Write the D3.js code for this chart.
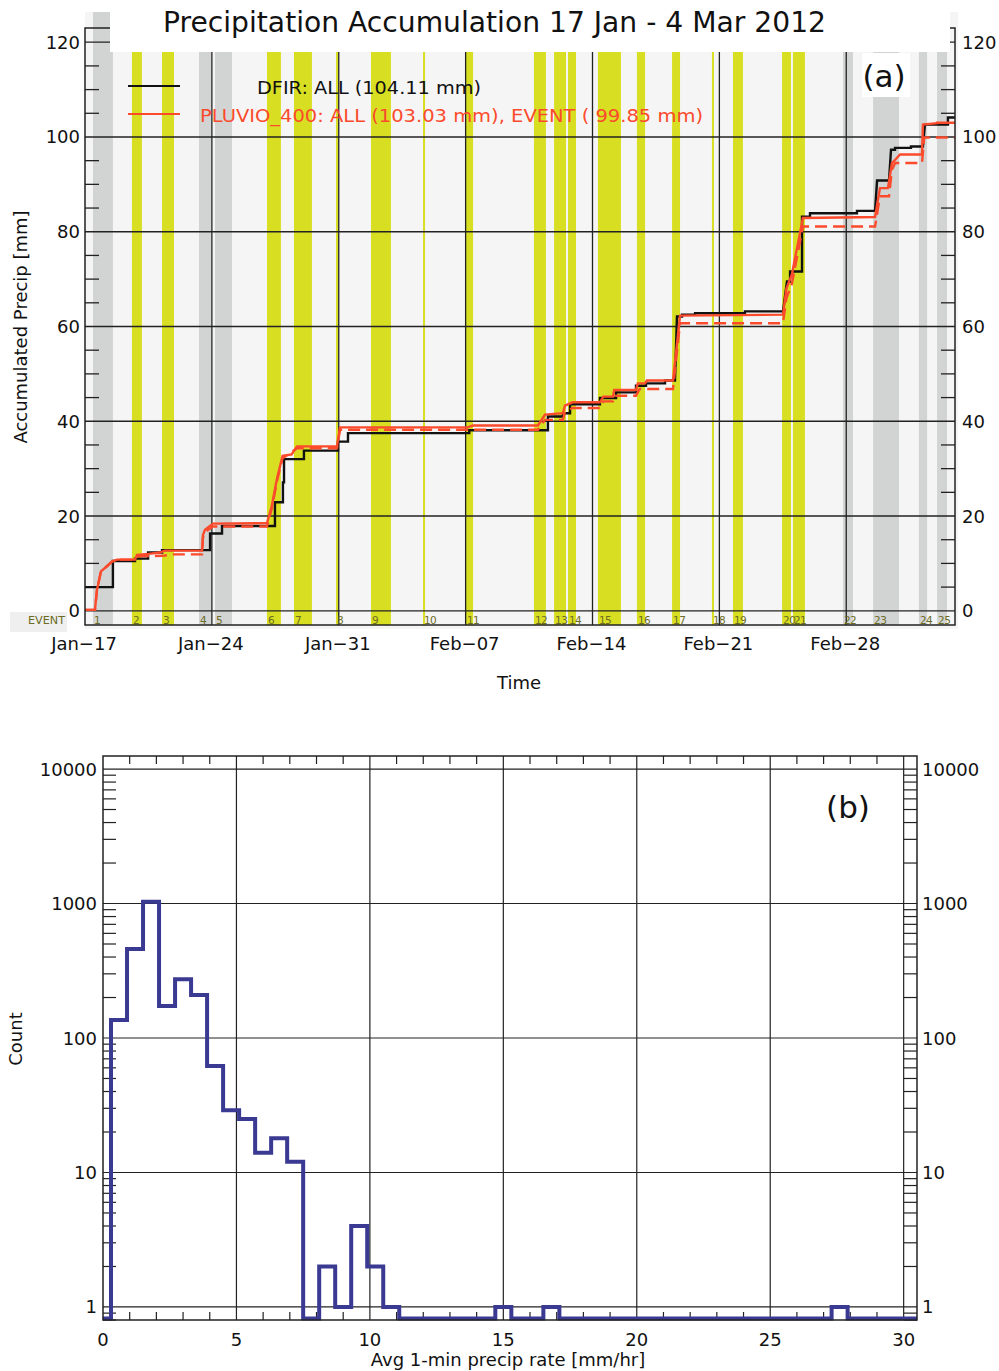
<!DOCTYPE html>
<html><head><meta charset="utf-8">
<script src="https://cdn.jsdelivr.net/npm/d3@7"></script>
<style>
body{margin:0;background:#fff}
svg{display:block}
text{font-family:"DejaVu Sans",sans-serif}
</style>
</head><body>
<svg id="c" width="999" height="1371"></svg>
<script>
// ---------------- DATA: panel (a) ----------------
const periodStart = "2012-01-17";
const periodEnd = "2012-03-05";
const dateTicks = ["2012-01-17","2012-01-24","2012-01-31","2012-02-07","2012-02-14","2012-02-21","2012-02-28"];
const dateTickLabels = ["Jan\u221217","Jan\u221224","Jan\u221231","Feb\u221207","Feb\u221214","Feb\u221221","Feb\u221228"];
const accTicks = [0,20,40,60,80,100,120];

// events: id, start/end (days after 17 Jan 00:00), type (g = grey, y = yellow)
const eventIds   = [1,2,3,4,5,6,7,8,9,10,11,12,13,14,15,16,17,18,19,20,21,22,23,24,25];
const eventStart = [0.44,2.59,4.25,6.29,7.17,10.04,11.53,13.85,15.78,18.65,21.02,24.77,25.88,26.65,28.30,30.45,32.39,34.59,35.75,38.46,39.06,41.82,43.48,46.01,47.01];
const eventEnd   = [1.54,3.14,4.91,6.95,8.11,10.81,12.52,13.96,16.88,18.76,21.41,25.43,26.54,27.09,29.57,30.90,32.83,34.70,36.30,38.95,39.72,42.37,44.91,46.46,47.56];
const eventType  = ["g","y","y","g","g","y","y","y","y","y","y","y","y","y","y","y","y","y","y","y","y","g","g","g","g"];

// accumulations [day after 17 Jan, mm]
const dfirAll = [[0,5.0],[1.54,5.0],[1.54,10.5],[2.76,10.5],[2.76,11.0],[3.48,11.0],[3.48,12.3],[4.25,12.3],[4.25,12.8],[6.90,12.8],[6.90,16.3],[7.56,16.3],[7.56,17.9],[10.48,17.9],[10.48,22.9],[10.92,22.9],[10.92,27.1],[10.98,27.1],[10.98,32.0],[12.08,32.0],[12.08,33.8],[13.96,33.8],[13.96,35.7],[14.51,35.7],[14.51,37.5],[21.2,37.5],[21.2,38.1],[25.54,38.1],[25.54,41.0],[26.37,41.0],[26.37,41.7],[26.76,41.7],[26.76,43.6],[28.41,43.6],[28.41,44.9],[29.3,44.9],[29.3,46.1],[30.4,46.1],[30.4,47.5],[30.95,47.5],[30.95,48.0],[32.0,48.0],[32.0,48.6],[32.55,48.6],[32.66,62.1],[32.94,62.1],[32.94,62.5],[33.66,62.5],[33.66,62.8],[36.41,62.8],[36.41,63.2],[38.51,63.2],[38.73,69.5],[38.90,69.5],[38.90,71.6],[39.56,71.6],[39.56,83.2],[40.0,83.2],[40.0,83.9],[42.59,83.9],[42.59,84.4],[43.59,84.4],[43.70,90.8],[44.36,90.8],[44.47,97.3],[44.69,97.3],[44.69,97.7],[45.57,97.7],[45.57,98.0],[46.23,98.0],[46.34,102.6],[47.61,102.6],[47.61,104.1],[48.0,104.1]];
const pluvioAll = [[0,0.2],[0.55,0.2],[0.66,4.4],[0.88,8.3],[1.21,9.4],[1.49,10.4],[1.77,10.8],[2.76,10.8],[2.87,11.8],[3.5,12.0],[4.14,12.3],[4.4,12.7],[6.46,12.7],[6.51,16.0],[6.62,17.1],[7.06,18.4],[10.04,18.5],[10.3,22.0],[10.6,28.0],[10.9,32.7],[11.4,33.0],[11.70,34.7],[13.90,34.7],[14.07,38.7],[21.1,38.7],[21.4,39.1],[24.99,39.1],[25.38,41.4],[26.37,41.7],[26.48,43.3],[26.9,44.0],[28.41,44.0],[28.6,45.2],[29.13,45.2],[29.2,46.6],[30.40,46.6],[30.5,48.0],[30.9,48.0],[31.0,48.6],[32.44,48.6],[32.83,62.3],[38.51,62.5],[38.7,68.0],[39.0,71.0],[39.61,82.9],[43.59,83.1],[43.86,89.2],[44.30,89.2],[44.52,94.5],[44.7,95.2],[44.97,96.3],[46.18,96.3],[46.23,102.6],[47.01,102.9],[47.01,103.0],[48.0,103.0]];
const pluvioEvent = [[0,0.2],[0.55,0.2],[0.66,4.4],[0.88,8.3],[1.21,9.4],[1.49,10.4],[1.77,10.8],[2.59,10.8],[2.87,11.5],[4.25,11.6],[4.9,11.9],[6.46,11.9],[6.51,15.5],[6.62,16.6],[7.06,17.8],[10.04,17.8],[10.3,21.5],[10.6,27.5],[10.9,32.2],[11.7,34.3],[13.9,34.3],[14.07,38.2],[24.99,38.2],[25.38,40.3],[26.37,40.3],[26.48,42.0],[26.9,42.8],[28.41,42.8],[28.6,44.2],[29.13,44.2],[29.2,45.4],[30.40,45.4],[30.6,46.8],[32.44,46.8],[32.83,60.7],[38.51,60.7],[38.7,66.0],[39.0,69.0],[39.61,81.1],[43.59,81.1],[43.86,87.5],[44.36,87.5],[44.52,93.1],[44.7,94.5],[46.18,94.5],[46.3,99.9],[48.0,99.9]];

// ---------------- DATA: panel (b) ----------------
const binCenters = [0,0.6,1.2,1.8,2.4,3.0,3.6,4.2,4.8,5.4,6.0,6.6,7.2,7.8,8.4,9.0,9.6,10.2,10.8,11.4,12.0,12.6,13.2,13.8,14.4,15.0,15.6,16.2,16.8,17.4,18.0,18.6,19.2,19.8,20.4,21.0,21.6,22.2,22.8,23.4,24.0,24.6,25.2,25.8,26.4,27.0,27.6,28.2,28.8,29.4,30.0];
const binCounts  = [0,136,459,1031,173,273,209,62,29,25,14,18,12,0,2,1,4,2,1,0,0,0,0,0,0,1,0,0,1,0,0,0,0,0,0,0,0,0,0,0,0,0,0,0,0,0,1,0,0,0,0];
const rateTicks = [0,5,10,15,20,25,30];
const countTicks = [1,10,100,1000,10000];

// ---------------- DRAW ----------------
const svg = d3.select("#c");
const ink = "#222";
const red = "#fb4a2c";
const olive = "#6c6c24";

// panel (a)
const A = {l:85, r:955, t:28, b:625};
const parse = d3.utcParse("%Y-%m-%d");
const t0 = parse(periodStart);
const xA = d3.scaleUtc().domain([t0, parse(periodEnd)]).range([A.l, A.r]);
const yA = d3.scaleLinear().domain([-3,123]).range([A.b, A.t]);
const dd = d => new Date(t0.getTime() + d*864e5);

const gA = svg.append("g");
gA.append("rect").attr("x",A.l).attr("y",12).attr("width",A.r-A.l+3).attr("height",A.b-12+4).attr("fill","#f5f5f5");

const events = eventIds.map((id,i)=>({id, s:eventStart[i], e:eventEnd[i], type:eventType[i]}));
gA.selectAll("rect.ev").data(events).join("rect").attr("class","ev")
  .attr("x", d=>xA(dd(d.s)))
  .attr("width", d=>Math.max(2, xA(dd(d.e))-xA(dd(d.s))))
  .attr("y",12).attr("height",A.b-12)
  .attr("fill", d=> d.type==="g" ? "#d2d3d3" : "#d8df22");

// gridlines
gA.selectAll("line.hg").data(accTicks).join("line")
  .attr("x1",A.l).attr("x2",A.r).attr("y1",d=>yA(d)).attr("y2",d=>yA(d))
  .attr("stroke",ink).attr("stroke-width",1.3);
gA.selectAll("line.vg").data(dateTicks.slice(1)).join("line")
  .attr("x1",d=>xA(parse(d))).attr("x2",d=>xA(parse(d))).attr("y1",A.t).attr("y2",A.b)
  .attr("stroke",ink).attr("stroke-width",1.3);

// minor y ticks
const minorA = yA.ticks(25).filter(v=>v%20!==0 && v>0);
minorA.forEach(v=>{
  gA.append("line").attr("x1",A.l).attr("x2",A.l+14).attr("y1",yA(v)).attr("y2",yA(v)).attr("stroke",ink).attr("stroke-width",1.3);
  gA.append("line").attr("x1",A.r-14).attr("x2",A.r).attr("y1",yA(v)).attr("y2",yA(v)).attr("stroke",ink).attr("stroke-width",1.3);
});

// event labels
gA.append("rect").attr("x",10).attr("y",612).attr("width",57).attr("height",20).attr("fill","#efefef");
gA.append("text").attr("x",28).attr("y",624).attr("font-size",11).attr("fill",olive)
  .attr("font-family","DejaVu Sans Condensed, DejaVu Sans").attr("textLength",37).attr("lengthAdjust","spacingAndGlyphs").text("EVENT");
gA.selectAll("text.evl").data(events).join("text")
  .attr("x",d=>xA(dd(d.s))+1).attr("y",624)
  .attr("font-size",10.5).attr("letter-spacing",-0.6).attr("font-family","DejaVu Sans Condensed, DejaVu Sans")
  .attr("fill",olive).text(d=>d.id);

// curves
const lineA = d3.line().x(d=>xA(dd(d[0]))).y(d=>yA(d[1]));
gA.append("path").attr("d",lineA(dfirAll)).attr("fill","none").attr("stroke","#111").attr("stroke-width",2.4);
gA.append("path").attr("d",lineA(pluvioEvent)).attr("fill","none").attr("stroke",red).attr("stroke-width",2.4).attr("stroke-dasharray","12,6");
gA.append("path").attr("d",lineA(pluvioAll)).attr("fill","none").attr("stroke",red).attr("stroke-width",2.4);

// frame
gA.append("rect").attr("x",A.l).attr("y",A.t).attr("width",A.r-A.l).attr("height",A.b-A.t)
  .attr("fill","none").attr("stroke",ink).attr("stroke-width",1.5);

// y labels
accTicks.forEach(v=>{
  gA.append("text").attr("x",80).attr("y",yA(v)+6.5).attr("text-anchor","end").attr("font-size",18).attr("fill","#111").text(v);
  gA.append("text").attr("x",962).attr("y",yA(v)+6.5).attr("font-size",18).attr("fill","#111").text(v);
});
// x labels
dateTicks.forEach((d,i)=>{
  gA.append("text").attr("x",xA(parse(d))-1).attr("y",650).attr("text-anchor","middle").attr("font-size",18).attr("fill","#111").text(dateTickLabels[i]);
});
gA.append("text").attr("x",519).attr("y",689).attr("text-anchor","middle").attr("font-size",18).attr("fill","#111").text("Time");
gA.append("text").attr("transform","translate(27,327) rotate(-90)").attr("text-anchor","middle").attr("font-size",18).attr("fill","#111").text("Accumulated Precip [mm]");

// legend
gA.append("line").attr("x1",128).attr("x2",180).attr("y1",86).attr("y2",86).attr("stroke","#111").attr("stroke-width",2);
gA.append("text").attr("x",257).attr("y",94).attr("font-size",17).attr("fill","#111")
  .attr("textLength",224).attr("lengthAdjust","spacingAndGlyphs").text("DFIR: ALL (104.11 mm)");
gA.append("line").attr("x1",128).attr("x2",180).attr("y1",114).attr("y2",114).attr("stroke",red).attr("stroke-width",2);
gA.append("text").attr("x",200).attr("y",122).attr("font-size",17).attr("fill",red)
  .attr("textLength",503).attr("lengthAdjust","spacingAndGlyphs").text("PLUVIO_400: ALL (103.03 mm), EVENT ( 99.85 mm)");

// title box
svg.append("rect").attr("x",110).attr("y",0).attr("width",840).attr("height",52).attr("fill","#fff");
svg.append("text").attr("x",494.5).attr("y",32).attr("text-anchor","middle").attr("font-family","Lato, 'Open Sans', sans-serif")
  .attr("font-size",29).attr("fill","#111").attr("textLength",663).attr("lengthAdjust","spacingAndGlyphs")
  .text("Precipitation Accumulation 17 Jan - 4 Mar 2012");
svg.append("rect").attr("x",862).attr("y",53).attr("width",48).attr("height",44).attr("fill","#fff");
svg.append("text").attr("x",884).attr("y",87).attr("text-anchor","middle").attr("font-family","Lato, 'Open Sans', sans-serif")
  .attr("font-size",31).attr("fill","#111").text("(a)");

// panel (b)
const B = {l:103, r:917, t:756, b:1320};
const xB = d3.scaleLinear().domain([0,30.5]).range([B.l,B.r]);
const yB = d3.scaleLog().domain([0.8,12500]).range([B.b,B.t]);
const gB = svg.append("g");

gB.selectAll("line.hg").data(countTicks).join("line")
  .attr("x1",B.l).attr("x2",B.r).attr("y1",d=>yB(d)).attr("y2",d=>yB(d)).attr("stroke",ink).attr("stroke-width",1.2);
gB.selectAll("line.vg").data(rateTicks.slice(1)).join("line")
  .attr("x1",d=>xB(d)).attr("x2",d=>xB(d)).attr("y1",B.t).attr("y2",B.b).attr("stroke",ink).attr("stroke-width",1.2);

// minor x ticks
d3.range(1,31).filter(v=>v%5!==0).forEach(v=>{
  gB.append("line").attr("x1",xB(v)).attr("x2",xB(v)).attr("y1",B.b).attr("y2",B.b-8).attr("stroke",ink).attr("stroke-width",1.2);
  gB.append("line").attr("x1",xB(v)).attr("x2",xB(v)).attr("y1",B.t).attr("y2",B.t+8).attr("stroke",ink).attr("stroke-width",1.2);
});
// minor y ticks (log)
yB.ticks().filter(v=>!countTicks.includes(v)).forEach(v=>{
  const y = yB(v);
  if (y < B.t || y > B.b) return;
  gB.append("line").attr("x1",B.l).attr("x2",B.l+13).attr("y1",y).attr("y2",y).attr("stroke",ink).attr("stroke-width",1.2);
  gB.append("line").attr("x1",B.r-13).attr("x2",B.r).attr("y1",y).attr("y2",y).attr("stroke",ink).attr("stroke-width",1.2);
});

// histogram step line (psym=10 style)
const half = 0.3;
const pts = binCenters.map((c,i)=>[Math.max(0,c-half), binCounts[i]>0 ? binCounts[i] : 0.8]);
pts.push([30.5, 0.8]);
const lineB = d3.line().x(d=>xB(d[0])).y(d=>Math.min(yB(d[1]), B.b-1.5)).curve(d3.curveStepAfter);
gB.append("path").attr("d",lineB(pts)).attr("fill","none").attr("stroke","#3a3a93").attr("stroke-width",4);

gB.append("rect").attr("x",B.l).attr("y",B.t).attr("width",B.r-B.l).attr("height",B.b-B.t)
  .attr("fill","none").attr("stroke",ink).attr("stroke-width",1.5);

countTicks.forEach(v=>{
  gB.append("text").attr("x",97).attr("y",yB(v)+6.5).attr("text-anchor","end").attr("font-size",18).attr("fill","#111").text(v);
  gB.append("text").attr("x",922).attr("y",yB(v)+6.5).attr("font-size",18).attr("fill","#111").text(v);
});
rateTicks.forEach(v=>{
  gB.append("text").attr("x",xB(v)).attr("y",1346).attr("text-anchor","middle").attr("font-size",18).attr("fill","#111").text(v);
});
gB.append("text").attr("x",508).attr("y",1366).attr("text-anchor","middle").attr("font-size",18).attr("fill","#111").text("Avg 1-min precip rate [mm/hr]");
gB.append("text").attr("transform","translate(22,1039) rotate(-90)").attr("text-anchor","middle").attr("font-size",18).attr("fill","#111").text("Count");
gB.append("text").attr("x",848).attr("y",818).attr("text-anchor","middle").attr("font-family","Lato, 'Open Sans', sans-serif")
  .attr("font-size",31).attr("fill","#111").text("(b)");
</script>
</body></html>
